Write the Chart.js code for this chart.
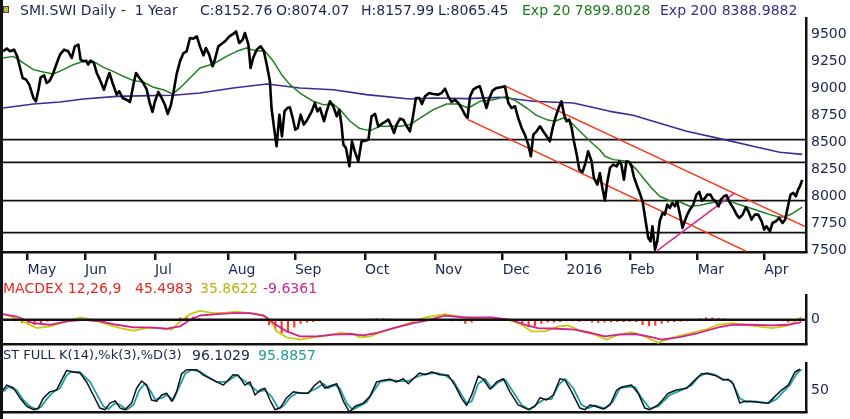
<!DOCTYPE html>
<html>
<head>
<meta charset="utf-8">
<script src="https://cdn.jsdelivr.net/npm/chart.js@4.4.1/dist/chart.umd.min.js"></script>
<style>
  body { margin: 0; background: #fff; width: 850px; height: 419px; overflow: hidden; position: relative;
         font-family: "DejaVu Sans", sans-serif; }
  canvas { position: absolute; left: 0; }
  .t { position: absolute; font-size: 14px; line-height: 16px; white-space: nowrap; }
  .navy { color: #1c2452; }
  #frame { position: absolute; left: 0; top: 0; width: 3px; height: 419px; background: #111; }
  #icon { position: absolute; left: 3px; top: 6px; width: 4px; height: 5px; background: #c9b22e; border: 1px solid #444; }
</style>
</head>
<body>
<canvas id="price" width="850" height="280" style="top:0"></canvas>
<canvas id="macd" width="850" height="73" style="top:280px"></canvas>
<canvas id="stoch" width="850" height="71" style="top:350px"></canvas>
<div id="frame"></div>
<div id="icon"></div>

<div class="t navy" style="left:20px;top:2px">SMI.SWI Daily -&nbsp; 1 Year</div>
<div class="t navy" style="left:200px;top:2px">C:8152.76</div>
<div class="t navy" style="left:276px;top:2px">O:8074.07</div>
<div class="t navy" style="left:361px;top:2px">H:8157.99</div>
<div class="t navy" style="left:438px;top:2px">L:8065.45</div>
<div class="t" style="left:522px;top:2px;color:#1d7a1d">Exp 20 7899.8028</div>
<div class="t" style="left:660px;top:2px;color:#3b2a8c">Exp 200 8388.9882</div>

<div class="t" style="left:3px;top:280px;color:#e8261e">MACDEX 12,26,9</div>
<div class="t" style="left:135px;top:280px;color:#e8261e">45.4983</div>
<div class="t" style="left:200px;top:280px;color:#b5b512">35.8622</div>
<div class="t" style="left:263px;top:280px;color:#c8278a">-9.6361</div>

<div class="t navy" style="left:3px;top:347px;font-size:13px">ST FULL K(14),%k(3),%D(3)</div>
<div class="t navy" style="left:192px;top:347px">96.1029</div>
<div class="t" style="left:258px;top:347px;color:#249c8c">95.8857</div>

<script>
// x values are trading days counted from the left edge of the chart
const xMax = 253.6;
const monthDays = [7.7, 25.9, 48.0, 71.1, 92.2, 114.3, 136.4, 157.8, 178.0, 198.0, 219.4, 240.4];
const monthLabels = ['May', 'Jun', 'Jul', 'Aug', 'Sep', 'Oct', 'Nov', 'Dec', '2016', 'Feb', 'Mar', 'Apr'];
const priceTicks = [7500, 7750, 8000, 8250, 8500, 8750, 9000, 9250, 9500];

const closeDays = [0,1.2,2.2,3.5,4.5,5.4,6.2,7.3,8.3,9.6,10.4,11.2,11.9,13.0,13.8,14.6,15.7,17.0,18.0,19.3,
  20.6,21.7,22.7,23.8,24.5,25.4,26.2,26.9,27.7,28.7,29.6,30.6,31.9,32.7,33.6,34.6,35.9,36.7,37.8,39.0,
  40.1,41.2,42.0,43.1,44.3,45.4,46.2,47.2,48.0,49.05,50.1,51.2,52.0,53.0,53.8,54.8,55.9,57.0,58.0,59.05,
  60.1,61.2,62.2,63.3,64.1,65.1,66.2,66.9,68.0,69.0,70.1,71.5,72.7,73.6,74.6,75.7,76.4,77.5,78.2,79.0,
  80.1,81.4,82.4,83.3,84.3,84.8,85.6,86.4,87.3,88.1,88.9,89.8,90.6,91.5,92.3,93.1,94.0,95.0,96.1,97.5,
  98.5,99.3,100.1,101.4,102.2,103.25,104.3,105.4,106.2,106.9,107.5,108.3,109.4,110.2,111.1,112.2,113.25,114.3,115.4,116.4,
  117.5,118.5,119.6,120.6,121.7,122.7,123.5,124.3,125.4,126.4,127.5,128.5,129.4,130.4,131.5,132.3,133.3,134.6,135.9,137.5,
  138.5,139.6,140.6,141.7,142.7,143.8,144.8,145.9,146.7,147.5,148.5,149.6,150.6,151.7,152.7,153.6,154.6,155.9,157.2,158.5,
  159.6,160.6,161.7,162.7,163.8,164.8,165.9,166.7,167.5,168.5,169.6,170.6,171.7,172.7,173.6,174.6,175.7,176.4,177.2,178.0,
  178.8,179.6,180.3,181.2,182.0,183.0,183.8,184.8,185.9,186.6,187.7,188.5,189.3,190.1,190.8,191.7,192.7,193.8,194.6,195.3,
  196.1,196.9,197.8,198.5,199.2,200.1,200.9,202.0,202.8,203.8,204.5,205.1,205.9,206.6,207.4,208.3,209.0,209.8,210.6,211.4,
  212.2,212.9,213.8,214.6,215.3,216.1,216.9,218.0,219.0,219.9,220.7,221.7,222.4,223.4,224.3,225.1,226.0,226.7,227.7,228.5,
  229.6,230.6,231.7,232.5,233.6,234.6,235.4,236.4,237.4,238.5,239.6,240.4,241.1,242.2,243.0,244.1,245.1,246.2,247.0,248.0,
  248.7,249.6,250.4,251.1,251.7,252.4];
const closeVals = [9346,9371,9346,9361,9299,9191,9098,9083,9037,8913,8882,8990,9105,9123,9052,9068,9129,9238,9315,9361,
  9346,9284,9392,9408,9268,9253,9259,9222,9259,9238,9145,9083,8990,9068,9145,9052,8944,8975,8913,8897,
  8876,9037,9145,9098,9052,8990,8882,8783,8882,8969,8913,8845,8765,8845,8959,9129,9253,9330,9346,9469,
  9463,9485,9392,9309,9377,9315,9207,9268,9392,9414,9439,9485,9507,9531,9423,9454,9516,9408,9191,9284,
  9361,9392,9346,9222,9068,8820,8635,8465,8758,8557,8789,8820,8826,8727,8619,8635,8758,8666,8712,8789,
  8866,8789,8820,8697,8789,8882,8836,8743,8805,8666,8480,8449,8279,8511,8418,8325,8511,8517,8526,8743,
  8765,8650,8672,8690,8712,8650,8588,8666,8721,8712,8650,8604,8727,8913,8913,8857,8928,8959,8950,8944,
  8959,8999,8928,8876,8897,8866,8820,8758,8727,8928,8990,9012,9021,8913,8820,8913,8981,9006,9012,9021,
  8866,8820,8836,8727,8635,8573,8480,8372,8573,8604,8650,8604,8557,8511,8635,8743,8836,8882,8758,8697,
  8712,8635,8511,8387,8248,8226,8294,8418,8325,8171,8109,8217,8078,7960,8124,8264,8294,8279,8325,8294,
  8155,8325,8319,8279,8186,8109,8047,7954,7800,7614,7583,7722,7506,7583,7769,7846,7831,7923,7893,7939,
  7908,7954,7831,7707,7769,7831,7877,7923,8016,8041,7960,7985,8016,8016,7970,7954,7908,7970,8001,8010,
  7939,7893,7831,7800,7831,7899,7862,7784,7831,7831,7769,7692,7722,7676,7753,7769,7800,7753,7784,7923,
  8016,8032,8001,8063,8094,8153];

const ema20Days = [0,3.3,6.4,9.6,12.7,15.9,19.05,22.2,25.4,28.5,31.7,34.8,38.0,41.2,44.3,47.5,50.6,53.6,55.9,59.05,
  62.2,66.4,70.6,73.8,76.9,79.6,82.7,85.4,88.0,90.6,93.8,98.0,101.1,104.3,106.4,109.6,112.7,115.9,119.05,123.3,
  125.4,128.5,131.7,135.9,140.1,143.8,147.0,150.6,154.8,159.0,162.2,165.4,168.5,171.7,174.3,177.0,179.0,182.2,185.4,188.5,
  190.1,192.7,195.9,198.0,200.1,202.2,204.8,207.4,210.6,213.8,216.9,220.1,223.2,226.4,229.6,232.7,235.9,239.0,242.2,245.3,
  247.4,249.6,252.4];
const ema20Vals = [9284,9299,9238,9176,9154,9136,9176,9222,9253,9253,9197,9160,9114,9074,9061,9012,8990,8950,9006,9098,
  9191,9228,9299,9346,9377,9352,9346,9253,9129,9037,8959,8882,8851,8857,8805,8697,8629,8610,8650,8650,
  8650,8666,8727,8805,8857,8857,8820,8882,8897,8928,8882,8820,8752,8712,8697,8727,8697,8604,8511,8430,
  8372,8341,8331,8310,8248,8171,8078,8001,7960,7948,7908,7917,7939,7954,7954,7923,7893,7862,7831,7806,
  7815,7846,7900];

const ema200Days = [0,9.6,18.0,25.4,35.9,46.4,53.8,62.2,72.7,83.3,93.8,104.3,114.8,128.5,135.9,146.4,157.0,167.5,180.1,191.7,
  199.0,205.3,215.9,226.4,236.9,245.3,252.4];
const ema200Vals = [8820,8857,8876,8904,8928,8935,8938,8959,9006,9043,9006,8990,8944,8904,8913,8907,8919,8882,8866,8789,
  8752,8697,8604,8536,8465,8409,8390];

// drawn levels and trend lines: [day, price]
const levels = [8526, 8316, 7960, 7663];
const channelTop = [[158.8, 9021], [253.2, 7722]];
const channelBottom = [[146.9, 8712], [234.8, 7490]];
const supportLine = [[206.6, 7497], [231.1, 8032]];

const macdDays = [0,3.3,7.5,10.6,14.8,20.1,24.3,28.5,32.7,37.0,41.2,45.4,49.6,53.3,55.9,59.05,62.2,66.4,70.6,73.8,
  78.0,82.2,84.3,86.4,89.6,93.8,98.0,102.2,106.4,110.6,112.7,115.9,120.1,125.4,129.6,133.3,
  139.6,143.8,148.0,154.3,159.6,163.8,166.9,171.1,175.4,178.5,182.7,187.0,190.6,194.3,198.5,202.7,206.9,211.1,215.3,221.7,
  225.9,230.1,234.3,238.5,242.7,246.9,250.1,252.2];
const macdVals = [91,37,-53,-133,-107,-27,37,0,-69,-133,-176,-133,-133,-160,-27,91,144,107,117,133,
  107,80,0,-187,-283,-320,-283,-256,-213,-229,-283,-267,-187,-107,-27,37,
  91,53,27,27,0,-80,-187,-187,-107,-91,-187,-240,-320,-240,-197,-267,-373,-293,-240,-160,
  -80,-53,-80,-107,-133,-107,-27,45];
const signalDays = [0,4.3,9.6,14.8,20.1,25.4,30.6,35.9,41.2,46.4,51.7,55.9,59.05,62.2,67.5,72.7,78.0,82.2,85.4,89.6,
  93.8,99.05,104.3,109.6,113.8,118.0,123.3,129.6,133.3,139.6,145.9,154.3,160.6,164.8,169.0,175.4,180.6,185.9,190.1,194.3,
  199.6,203.8,208.0,213.25,219.6,225.9,230.1,236.4,242.7,248.0,252.2];
const signalVals = [91,53,-53,-80,-27,0,-27,-80,-123,-123,-144,-107,0,69,91,107,107,69,-53,-187,
  -267,-267,-240,-229,-251,-213,-133,-53,-16,69,37,37,0,-80,-133,-144,-160,-213,-267,-240,
  -229,-267,-320,-283,-213,-123,-80,-80,-91,-80,-37];
// histogram, one bar every 2 trading days from day 0
const histVals = [-15,-15,-20,-50,-70,-80,-60,-25,-15,-10,-10,-10,-5,-10,-20,-25,-25,-20,
  -15,-15,-20,-15,-10,-15,-15,-20,-15,-10,30,50,45,20,-10,-10,-5,-10,-10,-5,-10,-15,-10,-15,
  -80,-150,-210,-180,-120,-60,-40,-30,-20,-15,-15,-15,-10,-15,-15,-10,10,20,20,15,5,-5,-10,-10,-15,
  -15,-15,-10,-15,-20,-20,-60,-40,-15,-10,-10,-15,-10,-15,-20,-90,-110,-100,-60,-40,-40,-30,-20,
  -20,-25,-20,-40,-45,-40,-35,-30,-30,-25,-30,-80,-100,-90,-60,-40,-30,-25,-20,-10,
  20,30,30,25,15,-10,-15,-15,-15,-20,-15,-15,-15,-20,-40,-20,-10];

const stochKDays = [0,1.2,3.3,5.4,7.5,9.6,11.2,12.7,14.8,16.9,18.5,20.1,22.2,24.3,26.4,28.5,30.6,32.2,33.8,35.4,
  37.0,38.5,40.6,42.2,43.8,45.4,46.9,48.5,50.1,51.7,53.3,54.8,56.4,58.0,61.2,63.3,66.4,69.6,72.7,74.3,
  76.4,78.0,79.6,81.2,82.7,84.3,85.9,87.5,89.6,91.7,94.3,96.4,98.5,100.1,101.7,103.3,105.4,107.5,109.4,111.2,
  113.8,115.9,118.0,120.1,122.2,124.3,126.4,128.0,129.6,131.5,133.3,135.4,138.0,140.6,142.7,144.8,146.4,148.0,150.1,151.7,
  153.8,155.9,158.0,160.1,162.7,165.9,168.0,169.6,171.7,173.8,175.9,177.5,179.6,182.2,183.8,185.4,187.0,189.6,191.7,193.8,
  195.4,198.5,200.6,202.7,204.3,206.9,210.1,212.7,215.9,218.5,220.6,222.7,225.4,227.5,229.0,230.6,232.7,234.3,235.9,238.5,
  241.7,243.8,245.9,248.0,250.1,251.7];
const stochKVals = [50,61,55,32,14,6.5,10,32,46,50,72,93.5,90,88,68,39,10,6.5,21,26,
  10,6.5,21,54,70,61,28,25,39,43,25,46,86,95,95,83,72,61,84,83,
  61,68,39,50,54,28,6.5,10,33,46,43,43,61,70,54,59,64,25,1.5,14,
  21,36,68,72,74,68,75,64,75,88,84,90,84,83,61,32,16,39,81,74,
  52,68,75,46,17,6.5,14,33,28,39,75,72,46,10,6.5,17,14,8,17,50,
  57,61,43,10,6.5,17,43,50,54,72,86,86,81,72,74,64,21,25,25,23,
  21,36,50,61,90,96.1];
const stochDDays = [0,1.7,4.3,6.4,8.5,10.6,12.2,13.8,15.9,18.0,20.1,21.7,24.3,27.5,29.6,31.7,33.3,35.4,37.0,39.05,
  41.2,43.05,44.8,46.4,48.0,50.1,51.7,53.8,55.9,57.5,59.6,62.2,64.3,67.5,70.6,73.8,75.9,78.0,80.6,82.7,
  84.8,86.9,88.5,90.6,92.7,95.9,99.05,101.2,102.7,104.8,106.4,108.5,110.4,112.7,114.8,116.9,119.05,122.2,125.4,128.0,
  130.6,133.3,134.3,136.9,139.6,142.2,144.3,146.4,148.0,150.1,152.2,154.3,156.4,158.5,161.1,163.8,166.4,169.0,171.1,173.25,
  175.4,177.5,180.1,182.7,184.8,187.0,190.1,192.7,194.8,197.5,199.6,201.7,204.3,206.9,210.6,214.3,217.5,219.6,222.2,224.8,
  227.5,230.1,232.7,234.8,237.5,241.7,244.3,246.4,248.5,250.6,252.2];
const stochDVals = [46,57,50,28,14,6.5,14,30,46,54,83,91,90,68,41,14,8,21,17,6.5,
  17,50,64,50,30,32,39,28,61,86,95,91,81,68,68,83,72,61,46,50,
  36,10,14,33,43,43,54,64,54,61,54,21,6.5,15,23,46,68,72,70,70,
  79,86,86,88,83,70,46,21,25,64,75,54,67,74,46,17,6.5,21,30,30,
  61,75,54,17,10,16,9,25,54,57,57,32,9,14,39,50,61,79,88,84,
  74,70,32,23,25,21,30,46,61,86,95.9];

const navy = '#1c2452';
const labelFont = { family: 'DejaVu Sans', size: 14 };

function pts(days, vals) {
  return days.map((d, i) => ({ x: d, y: vals[i] }));
}
function seg(pair) {
  return pair.map(p => ({ x: p[0], y: p[1] }));
}
function flat(v) {
  return [{ x: 0, y: v }, { x: xMax, y: v }];
}

function xAxis(withLabels) {
  return {
    type: 'linear', min: 0, max: xMax,
    border: { display: true, color: '#111', width: 2.5 },
    grid: { display: withLabels, drawOnChartArea: false, drawTicks: withLabels, tickLength: 8, color: '#111', lineWidth: 2.5 },
    ticks: {
      display: withLabels, autoSkip: false, maxRotation: 0, align: 'start', padding: 2,
      color: navy, font: labelFont,
      callback: (v, i) => monthLabels[i]
    },
    afterBuildTicks: (axis) => { axis.ticks = withLabels ? monthDays.map(d => ({ value: d })) : []; },
    afterFit: (axis) => { axis.height = withLabels ? 28 : 0; }
  };
}

function yAxis(min, max, tickValues) {
  return {
    type: 'linear', position: 'right', min: min, max: max,
    border: { display: true, color: '#111', width: 2.5 },
    // tick marks are not drawn, tickLength only pushes the labels off the axis line
    grid: { display: false, drawTicks: true, tickLength: 5 },
    ticks: { padding: 0, color: navy, font: labelFont, callback: (v) => String(v) },
    afterBuildTicks: (axis) => { axis.ticks = tickValues.map(v => ({ value: v })); },
    afterFit: (axis) => { axis.width = 44; }
  };
}

const common = {
  animation: false,
  responsive: false,
  events: [],
  plugins: { legend: { display: false }, tooltip: { enabled: false } },
  elements: { point: { radius: 0 }, line: { tension: 0, borderJoinStyle: 'round' } }
};

new Chart(document.getElementById('price'), {
  type: 'line',
  data: {
    datasets: [
      ...levels.map(v => ({ data: flat(v), borderColor: '#111', borderWidth: 1.7, order: 9 })),
      { data: pts(ema200Days, ema200Vals), borderColor: '#3d2b9a', borderWidth: 1.6, order: 5 },
      { data: pts(ema20Days, ema20Vals), borderColor: '#1f7f1f', borderWidth: 1.5, order: 4 },
      { data: seg(channelTop), borderColor: '#ff3010', borderWidth: 1.5, order: 3 },
      { data: seg(channelBottom), borderColor: '#ff3010', borderWidth: 1.5, order: 3 },
      { data: seg(supportLine), borderColor: '#e0208f', borderWidth: 1.5, order: 3 },
      { data: pts(closeDays, closeVals), borderColor: '#000', borderWidth: 2.6, order: 0 }
    ]
  },
  options: {
    ...common,
    layout: { padding: { left: 3, top: 18, right: 0, bottom: 0 } },
    scales: { x: xAxis(true), y: yAxis(7484, 9655, priceTicks) }
  }
});

new Chart(document.getElementById('macd'), {
  type: 'line',
  data: {
    datasets: [
      { data: flat(0), borderColor: '#111', borderWidth: 2.5, order: 0 },
      { data: pts(signalDays, signalVals), borderColor: '#d4208c', borderWidth: 1.8, order: 1 },
      { data: pts(macdDays, macdVals), borderColor: '#c8cc10', borderWidth: 1.8, order: 2 },
      { type: 'bar', data: histVals.map((v, i) => ({ x: i * 2, y: v })), backgroundColor: '#ff3a1a',
        barThickness: 1.5, order: 5 }
    ]
  },
  options: {
    ...common,
    layout: { padding: { left: 3, top: 15, right: 0, bottom: 8 } },
    scales: { x: xAxis(false), y: yAxis(-400, 400, [0]) }
  }
});

new Chart(document.getElementById('stoch'), {
  type: 'line',
  data: {
    datasets: [
      { data: pts(stochKDays, stochKVals), borderColor: '#101025', borderWidth: 1.5, order: 1 },
      { data: pts(stochDDays, stochDVals), borderColor: '#20a09a', borderWidth: 1.8, order: 2 }
    ]
  },
  options: {
    ...common,
    layout: { padding: { left: 3, top: 13, right: 0, bottom: 8 } },
    scales: { x: xAxis(false), y: yAxis(0, 110, [50]) }
  }
});
</script>
</body>
</html>
